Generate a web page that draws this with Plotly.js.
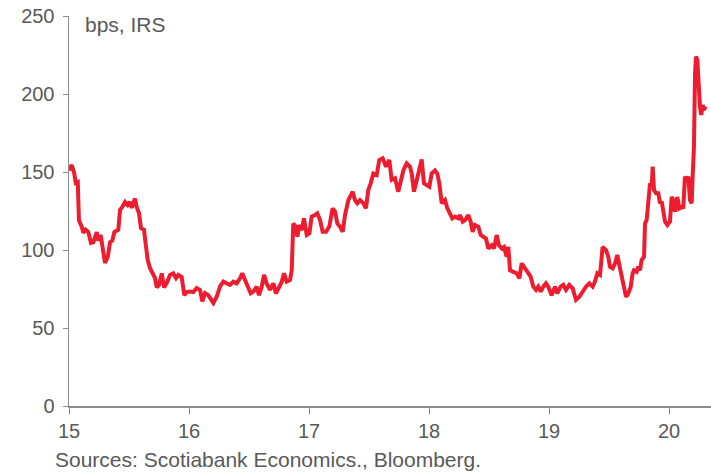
<!DOCTYPE html>
<html>
<head>
<meta charset="utf-8">
<script src="https://cdn.plot.ly/plotly-3.0.1.min.js"></script>
<style>
  html, body { margin: 0; padding: 0; background: #ffffff; }
  #chart { width: 711px; height: 473px; }
</style>
</head>
<body>
<div id="chart"></div>
<script>
// Spread in bps (IRS), dates as fractional years (15 = 2015)
const dates = [
  15.000, 15.023, 15.044, 15.056, 15.073, 15.078, 15.083, 15.106, 15.119, 15.139,
  15.161, 15.183, 15.203, 15.231, 15.244, 15.264, 15.278, 15.300, 15.323, 15.342,
  15.361, 15.378, 15.411, 15.425, 15.444, 15.467, 15.489, 15.508, 15.523, 15.550,
  15.564, 15.583, 15.600, 15.625, 15.642, 15.656, 15.675, 15.694, 15.717, 15.731,
  15.750, 15.773, 15.792, 15.814, 15.842, 15.869, 15.892, 15.911, 15.939, 15.961,
  15.981, 16.008, 16.036, 16.064, 16.092, 16.111, 16.133, 16.161, 16.181, 16.203,
  16.231, 16.258, 16.286, 16.314, 16.342, 16.369, 16.397, 16.425, 16.444, 16.467,
  16.494, 16.514, 16.536, 16.564, 16.583, 16.606, 16.625, 16.647, 16.675, 16.703,
  16.725, 16.744, 16.773, 16.792, 16.814, 16.842, 16.856, 16.864, 16.869, 16.889,
  16.903, 16.919, 16.939, 16.958, 16.981, 17.003, 17.022, 17.050, 17.069, 17.092,
  17.114, 17.142, 17.169, 17.197, 17.217, 17.236, 17.258, 17.281, 17.300, 17.328,
  17.348, 17.364, 17.383, 17.403, 17.425, 17.453, 17.475, 17.494, 17.514, 17.536,
  17.564, 17.586, 17.614, 17.642, 17.669, 17.689, 17.717, 17.744, 17.786, 17.814,
  17.842, 17.856, 17.875, 17.897, 17.919, 17.939, 17.958, 17.981, 18.003, 18.022,
  18.050, 18.069, 18.086, 18.106, 18.133, 18.153, 18.175, 18.194, 18.217, 18.244,
  18.258, 18.281, 18.300, 18.328, 18.347, 18.364, 18.383, 18.411, 18.431, 18.453,
  18.475, 18.494, 18.522, 18.542, 18.564, 18.583, 18.606, 18.625, 18.647, 18.661,
  18.675, 18.703, 18.731, 18.753, 18.772, 18.800, 18.828, 18.847, 18.869, 18.892,
  18.911, 18.931, 18.953, 18.975, 18.994, 19.022, 19.050, 19.069, 19.097, 19.119,
  19.142, 19.169, 19.197, 19.225, 19.253, 19.281, 19.308, 19.336, 19.364, 19.383,
  19.403, 19.425, 19.447, 19.475, 19.494, 19.508, 19.531, 19.550, 19.569, 19.586,
  19.606, 19.625, 19.642, 19.661, 19.681, 19.697, 19.708, 19.731, 19.744, 19.758,
  19.772, 19.792, 19.800, 19.814, 19.828, 19.842, 19.856, 19.864, 19.875, 19.892,
  19.911, 19.925, 19.939, 19.953, 19.967, 19.986, 20.008, 20.022, 20.036, 20.050,
  20.069, 20.086, 20.106, 20.119, 20.133, 20.147, 20.161, 20.175, 20.189, 20.197,
  20.208, 20.217, 20.225, 20.236, 20.247, 20.258, 20.269, 20.281, 20.292, 20.303
];

const spread = [
  151, 154.5, 149, 143, 143.6, 136, 119, 115, 111, 113,
  111.5, 104.5, 105, 111.5, 106, 109.6, 102, 91.7, 95.5, 105,
  106, 111.5, 113, 125.6, 127.6, 130.8, 128.8, 130.8, 127, 133,
  127.6, 123.7, 114, 113, 102, 93.6, 88.5, 85, 82, 76,
  77.6, 85, 76, 78.8, 84, 85, 82, 84, 82.7, 71,
  73, 73.4, 73, 75.6, 74.4, 67, 72.4, 71, 69, 66,
  70, 76.5, 79.7, 78.6, 77.6, 79.7, 78.6, 81.8, 85, 80.8,
  76.5, 72.2, 73.3, 76.5, 71, 76.5, 84, 78.6, 74.4, 78.6,
  72.2, 75.4, 79.7, 85, 79.7, 80.8, 87, 106, 117, 115,
  108.5, 116, 112.8, 120.3, 109.6, 110.7, 121.4, 122.4, 123.5, 119.2,
  111.7, 111.7, 115, 126.7, 124.6, 117, 115, 111.7, 122.4, 132,
  135.3, 137.4, 132, 130, 132, 130, 126.7, 138.5, 142.7, 149,
  148, 157.7, 158.8, 153.4, 157.7, 145, 146, 137.4, 151, 155.5,
  153.4, 149, 137.4, 145, 153.4, 158, 142.7, 141.7, 140.6, 149,
  151, 149, 142.7, 130, 132, 126.7, 123.5, 120.3, 121.4, 120.3,
  122.4, 118.2, 119.2, 122.4, 118.2, 111.7, 116, 115, 109.6, 108.5,
  107.4, 101, 103, 101, 109.6, 103, 101, 102, 95.7, 102,
  87, 86, 85, 81.8, 91.4, 88.2, 85, 82.9, 76.5, 74.4,
  76.5, 73.3, 76.5, 78.6, 76.5, 71, 76.5, 72.2, 76.5, 77.6,
  74.4, 77.6, 75.4, 68, 70, 73.3, 76.5, 78.6, 76.5, 79.7,
  85, 84, 102, 100, 95.7, 89.3, 88.2, 91.4, 96.8, 90.4,
  82.9, 74.4, 70, 72.2, 76.5, 85, 87, 86, 89.3, 87,
  93.6, 95.7, 117, 119.2, 134, 142.7, 140.6, 153.4, 138.5, 136.3,
  136.3, 130, 131, 125.6, 118.2, 116, 118.2, 134, 132, 124.6,
  134, 126.7, 127.8, 126.7, 147, 145, 147, 132, 130, 147,
  166, 213, 224, 221.8, 198, 192, 186.5, 193, 189.7, 192
];

const xTicks = [15, 16, 17, 18, 19, 20];
const yTicks = [0, 50, 100, 150, 200, 250];
const unitLabel = 'bps, IRS';
const sourceNote = 'Sources: Scotiabank Economics., Bloomberg.';

const font = "'Liberation Sans', Arial, sans-serif";
const labelColor = '#595959';
const axisColor = '#8c8c8c';

const trace = {
  x: dates,
  y: spread,
  type: 'scatter',
  mode: 'lines',
  line: { color: '#ed1c2e', width: 4 },
  hoverinfo: 'x+y'
};

const layout = {
  width: 711,
  height: 473,
  margin: { l: 69, r: 0, t: 16, b: 67 },
  paper_bgcolor: '#ffffff',
  plot_bgcolor: '#ffffff',
  showlegend: false,
  font: { family: font, size: 20, color: labelColor },
  xaxis: {
    range: [15, 20.35],
    tickvals: xTicks,
    ticktext: xTicks.map(String),
    showgrid: false,
    zeroline: false,
    showline: true,
    linecolor: axisColor,
    linewidth: 1.5,
    ticks: 'outside',
    ticklen: 6,
    tickcolor: axisColor,
    tickwidth: 1,
    tickfont: { family: font, size: 20, color: labelColor }
  },
  yaxis: {
    range: [0, 250],
    tickvals: yTicks,
    ticktext: yTicks.map(String),
    showgrid: false,
    zeroline: false,
    showline: true,
    linecolor: axisColor,
    linewidth: 1.5,
    ticks: 'outside',
    ticklen: 5,
    tickcolor: axisColor,
    tickwidth: 1,
    ticklabelstandoff: 4,
    tickfont: { family: font, size: 20, color: labelColor }
  },
  annotations: [
    {
      text: unitLabel,
      xref: 'paper', yref: 'paper',
      x: 0.022, y: 1.012,
      xanchor: 'left', yanchor: 'top',
      showarrow: false,
      font: { family: font, size: 21, color: labelColor }
    },
    {
      text: sourceNote,
      xref: 'paper', yref: 'paper',
      x: -0.025, y: -0.102,
      xanchor: 'left', yanchor: 'top',
      showarrow: false,
      font: { family: font, size: 21, color: labelColor }
    }
  ]
};

Plotly.newPlot('chart', [trace], layout, { displayModeBar: false, staticPlot: true });
</script>
</body>
</html>
